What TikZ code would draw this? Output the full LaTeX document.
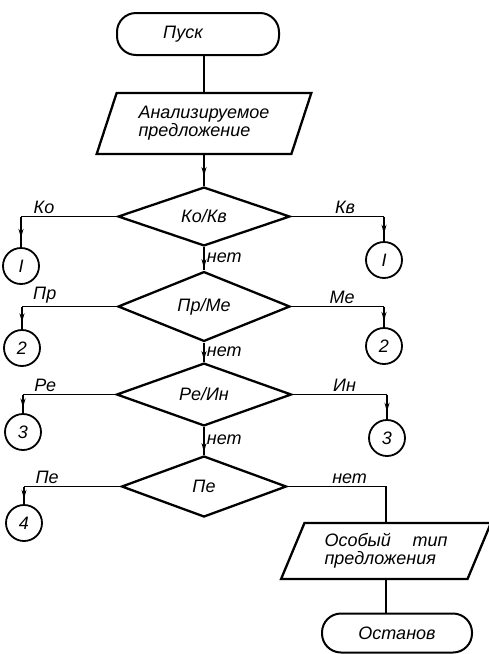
\documentclass[tikz,border=0pt]{standalone}
\usepackage{fontspec}
\setmainfont{Liberation Sans}
\usetikzlibrary{shapes.geometric,decorations.markings,arrows.meta}
\begin{document}
\begin{tikzpicture}[x=1pt,y=-1pt,
  font=\itshape\fontsize{18}{18}\selectfont,
  term/.style={draw, line width=2pt, rounded corners=19pt, inner sep=0pt},
  dec/.style={diamond, draw, line width=2.3pt, inner sep=0pt},
  io/.style={trapezium, trapezium stretches=true, draw, line width=2.3pt, align=left, inner sep=2pt},
  conn/.style={draw, circle, line width=1.8pt, minimum size=36pt, inner sep=0pt},
  link/.style={line width=1.8pt},
  midarrow/.style={link, postaction={decorate}, decoration={markings, mark=at position #1 with {\arrow{Stealth[length=9pt,width=5pt]}}}},
  midarrow/.default=0.75,
  lbl/.style={inner sep=2pt}]
\useasboundingbox (0,0) rectangle (489,654);

\node[term, minimum width=162pt, minimum height=42pt] (start) at (198,34) {Пуск\hspace*{30pt}};
\node[io, trapezium left angle=68, trapezium right angle=112, minimum width=215pt, minimum height=61pt] (in1) at (204,123.5) {Анализируемое\\предложение};
\node[dec, minimum width=172pt, minimum height=57pt] (d1) at (204,216.5) {Ко/Кв};
\node[dec, minimum width=172pt, minimum height=59pt] (d2) at (204,306.5) {Пр/Ме};
\node[dec, minimum width=175pt, minimum height=61pt] (d3) at (204,394.5) {Ре/Ин};
\node[dec, minimum width=165pt, minimum height=61pt] (d4) at (204,486.5) {Пе};

\node[conn] (cL1) at (21,266) {I};
\node[conn] (cR1) at (384,260) {I};
\node[conn] (cL2) at (22,348) {2};
\node[conn] (cR2) at (384,346) {2};
\node[conn] (cL3) at (23,432) {3};
\node[conn] (cR3) at (387,438) {3};
\node[conn] (cL4) at (24,523) {4};

\node[io, trapezium left angle=65, trapezium right angle=115, minimum width=210pt, minimum height=56pt] (out) at (386,551) {Особый\hspace{1.2em}тип\\предложения};
\node[term, minimum width=150pt, minimum height=39pt] (stop) at (397,633) {Останов};

% main column
\draw[link] (start.south -| in1.north) -- (in1.north);
\draw[midarrow=0.68] (in1.south) -- (d1.north);
\draw[midarrow=0.9] (d1.south) -- node[right, lbl, pos=0.45] {нет} (d2.north);
\draw[midarrow=0.9] (d2.south) -- node[right, lbl, pos=0.45] {нет} (d3.north);
\draw[midarrow=0.9] (d3.south) -- node[right, lbl, pos=0.45] {нет} (d4.north);

% left branches
\draw[link] (d1.west) -- node[above, lbl, pos=0.76] {Ко} (d1.west -| cL1);
\draw[midarrow=0.7] (d1.west -| cL1) -- (cL1.north);
\draw[link] (d2.west) -- node[above, lbl, pos=0.76] {Пр} (d2.west -| cL2);
\draw[midarrow=0.7] (d2.west -| cL2) -- (cL2.north);
\draw[link] (d3.west) -- node[above, lbl, pos=0.76] {Ре} (d3.west -| cL3);
\draw[midarrow=0.7] (d3.west -| cL3) -- (cL3.north);
\draw[link] (d4.west) -- node[above, lbl, pos=0.76] {Пе} (d4.west -| cL4);
\draw[midarrow=0.7] (d4.west -| cL4) -- (cL4.north);

% right branches
\draw[link] (d1.east) -- node[above, lbl, pos=0.58] {Кв} (d1.east -| cR1);
\draw[midarrow=0.7] (d1.east -| cR1) -- (cR1.north);
\draw[link] (d2.east) -- node[above, lbl, pos=0.55] {Ме} (d2.east -| cR2);
\draw[midarrow=0.7] (d2.east -| cR2) -- (cR2.north);
\draw[link] (d3.east) -- node[above, lbl, pos=0.55] {Ин} (d3.east -| cR3);
\draw[midarrow=0.7] (d3.east -| cR3) -- (cR3.north);

% exit
\draw[link] (d4.east) -- node[above, lbl, pos=0.63] {нет} (d4.east -| out.north) -- (out.north);
\draw[link] (out.south) -- (out.south |- stop.north);
\end{tikzpicture}
\end{document}
